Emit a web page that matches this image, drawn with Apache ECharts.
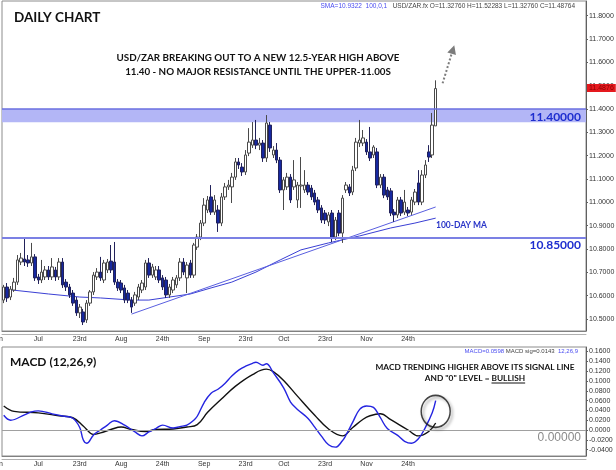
<!DOCTYPE html>
<html><head><meta charset="utf-8">
<script src="https://cdn.jsdelivr.net/npm/echarts@6/dist/echarts.min.js"></script>
<style>html,body{margin:0;padding:0;background:#fff}#c{width:616px;height:470px}</style>
</head><body><div id="c"></div>
<script>
// ---------- DATA ----------
const opens = [10.581,10.637,10.594,10.624,10.658,10.744,10.757,10.753,10.740,10.766,10.680,10.667,10.680,10.710,10.680,10.710,10.680,10.744,10.658,10.637,10.611,10.581,10.526,10.530,10.496,10.568,10.616,10.680,10.701,10.667,10.710,10.748,10.744,10.658,10.654,10.633,10.611,10.581,10.568,10.594,10.624,10.637,10.740,10.688,10.680,10.710,10.676,10.667,10.603,10.624,10.646,10.676,10.744,10.676,10.740,10.688,10.808,10.851,10.911,10.967,11.023,10.958,10.967,10.911,11.023,11.066,11.066,11.108,11.173,11.151,11.130,11.211,11.245,11.267,11.245,11.254,11.190,11.331,11.203,11.224,11.181,11.053,11.066,11.108,11.066,11.010,11.070,11.053,11.074,11.061,11.040,11.010,10.976,10.954,10.916,10.954,10.851,10.954,10.868,11.053,11.066,11.044,11.147,11.254,11.254,11.258,11.216,11.203,11.216,11.074,11.108,11.053,11.049,10.958,10.946,11.010,10.958,10.967,10.958,11.001,11.083,11.001,11.117,11.216,11.203,11.3276];
const closes = [10.637,10.590,10.628,10.658,10.753,10.761,10.744,10.740,10.766,10.676,10.667,10.701,10.710,10.680,10.723,10.680,10.744,10.646,10.637,10.603,10.568,10.526,10.551,10.487,10.568,10.616,10.688,10.701,10.676,10.740,10.744,10.710,10.658,10.633,10.624,10.581,10.581,10.551,10.603,10.637,10.654,10.740,10.688,10.723,10.710,10.667,10.637,10.603,10.637,10.667,10.676,10.744,10.701,10.731,10.688,10.817,10.851,10.911,10.988,11.010,10.958,11.010,10.911,11.023,11.066,11.074,11.108,11.173,11.160,11.130,11.203,11.258,11.267,11.245,11.254,11.190,11.340,11.233,11.224,11.181,11.053,11.096,11.108,11.010,11.096,11.074,11.074,11.074,11.044,11.023,11.001,10.967,10.924,10.924,10.946,10.847,10.924,10.868,11.018,11.074,11.040,11.138,11.258,11.267,11.276,11.216,11.190,11.237,11.074,11.108,11.031,11.023,10.954,10.946,11.010,10.954,11.001,10.954,11.010,11.044,11.001,11.117,11.160,11.194,11.331,11.48764];
const lows = [10.568,10.573,10.581,10.616,10.646,10.731,10.727,10.723,10.727,10.663,10.650,10.654,10.667,10.667,10.667,10.663,10.667,10.633,10.620,10.590,10.556,10.513,10.504,10.474,10.483,10.556,10.603,10.667,10.663,10.654,10.697,10.697,10.646,10.620,10.611,10.568,10.568,10.526,10.556,10.581,10.611,10.624,10.676,10.676,10.667,10.654,10.624,10.590,10.590,10.611,10.633,10.663,10.688,10.611,10.676,10.676,10.796,10.838,10.898,10.954,10.946,10.946,10.873,10.898,11.010,11.053,10.997,11.096,11.143,11.113,11.117,11.198,11.233,11.228,11.224,11.173,11.173,11.216,11.190,11.168,11.040,10.967,11.053,10.997,11.053,10.976,10.976,11.040,11.031,11.010,10.988,10.954,10.911,10.907,10.898,10.830,10.838,10.855,10.826,11.040,11.027,11.031,11.134,11.237,11.241,11.203,11.177,11.190,11.061,11.061,11.018,11.010,10.941,10.916,10.933,10.941,10.946,10.941,10.946,10.988,10.988,10.988,11.104,11.173,11.190,11.3276];
const highs = [10.646,10.654,10.641,10.676,10.774,10.783,10.843,10.774,10.826,10.778,10.693,10.753,10.727,10.727,10.761,10.723,10.761,10.761,10.671,10.650,10.624,10.594,10.564,10.543,10.581,10.624,10.701,10.718,10.766,10.753,10.757,10.817,10.830,10.671,10.667,10.646,10.624,10.594,10.616,10.650,10.667,10.753,10.761,10.736,10.727,10.727,10.688,10.680,10.650,10.680,10.688,10.761,10.761,10.744,10.753,10.826,10.864,10.924,11.018,11.027,11.074,11.031,10.988,11.040,11.083,11.096,11.126,11.190,11.190,11.168,11.224,11.318,11.344,11.353,11.276,11.267,11.374,11.344,11.241,11.254,11.194,11.108,11.126,11.121,11.181,11.087,11.194,11.138,11.087,11.074,11.053,11.023,10.988,10.967,10.958,10.967,10.937,10.967,11.031,11.087,11.078,11.156,11.276,11.353,11.310,11.271,11.323,11.245,11.233,11.121,11.121,11.066,11.061,10.971,11.023,11.023,11.053,10.980,11.023,11.057,11.138,11.138,11.181,11.245,11.383,11.52283];

// 100-day SMA (bar index, value)
const smaIdx = [0,5,13,22,28,37,42,48,54,60,66,73,80,86,94,103,112,119,125];
const smaVal = [10.628,10.620,10.607,10.594,10.590,10.581,10.581,10.594,10.607,10.633,10.658,10.701,10.753,10.796,10.826,10.856,10.890,10.911,10.9322];
// hand-drawn trendline
const trendIdx = [37,125];
const trendVal = [10.521,10.980];
// MACD (12,26,9)
const macdIdx = [0,2,6,8,10,14,17,20,22,23,24,26,28,30,32,35,38,40,42,44,46,49,51,53,55,56,58,60,62,64,66,68,70,72,73,75,76,78,81,83,85,88,90,92,94,96,98,99,101,103,105,107,109,111,114,116,118,120,122,124,125];
const macdVal = [0.030,0.020,0.031,0.037,0.039,0.033,0.0285,0.024,0.005,-0.020,-0.027,-0.010,0.000,0.010,0.019,0.010,-0.004,-0.012,-0.004,0.003,0.010,0.004,0.007,0.010,0.020,0.028,0.056,0.075,0.083,0.095,0.110,0.122,0.130,0.136,0.138,0.132,0.135,0.117,0.086,0.057,0.042,0.024,0.006,-0.013,-0.030,-0.035,-0.022,-0.011,0.016,0.042,0.049,0.046,0.025,0.003,-0.011,-0.023,-0.027,-0.018,0.005,0.035,0.0598];
const sigIdx = [0,3,10,16,20,23,25,26,28,31,34,37,41,44,49,53,56,59,63,67,72,76,78,81,85,90,94,98,101,104,106,109,112,117,120,123,125];
const sigVal = [0.049,0.038,0.035,0.029,0.025,0.008,-0.006,-0.009,-0.006,0.001,0.006,0.001,-0.003,0.001,0.002,0.006,0.011,0.036,0.063,0.089,0.113,0.124,0.119,0.101,0.069,0.030,0.002,-0.012,0.005,0.022,0.029,0.033,0.021,0.000,-0.012,-0.003,0.0143];

// axis / annotation values
const slotCount = 169;                         // bars + empty space to the right
const categories = Array.from({length: slotCount}, (_, k) => String(k));
const tickIdx  = [0, 10, 22, 34, 46, 58, 70, 81, 93, 105, 117];
const tickText = ['Jun','Jul','23rd','Aug','24th','Sep','23rd','Oct','23rd','Nov','24th'];
const priceTicks = [10.5,10.6,10.7,10.8,10.9,11.0,11.1,11.2,11.3,11.4,11.5,11.6,11.7,11.8];
const macdTicks = [-0.04,-0.02,0,0.02,0.04,0.06,0.08,0.10,0.12,0.14,0.16];
const resistBand = [11.343, 11.40];
const supportLevel = 10.85;
const lastClose = 11.48764;
const arrowFrom = [127, 11.51], arrowTo = [130, 11.655];
const circleMark = [125, 0.038];

// ---------- CHART ----------
const chart = echarts.init(document.getElementById('c'), null, {renderer: 'canvas'});
const candleData = opens.map((o, k) => [o, closes[k], lows[k], highs[k]]);
const pairs = (xs, ys) => xs.map((x, k) => [x, ys[k]]);
const tickMap = {}; tickIdx.forEach((t, k) => tickMap[t] = tickText[k]);

const labelFont = 'Liberation Sans, Arial, sans-serif';
function xAx(grid, withLabels, offset) {
  return {
    gridIndex: grid, type: 'category', data: categories, boundaryGap: true,
    position: 'bottom', offset: offset || 0,
    axisLine: {show: true, onZero: false, lineStyle: {color: offset ? '#b0b0b0' : '#808080', width: 1}},
    axisTick: {show: false}, splitLine: {show: false},
    axisLabel: withLabels ? {
      show: true, interval: (i) => tickMap[i] !== undefined,
      formatter: (v, i) => i === 0 ? '{j|' + tickMap[0] + '}' : (tickMap[i] || ''),
      fontSize: 7, color: '#333', fontFamily: labelFont, margin: 5,
      rich: {j: {fontSize: 7, color: '#333', fontFamily: labelFont, padding: [0, 13, 0, 0]}}
    } : {show: false}
  };
}
function yAx(grid, min, max, ticks, dec) {
  return {
    gridIndex: grid, type: 'value', position: 'right', min: min, max: max, scale: true,
    axisLine: {show: true, lineStyle: {color: '#606060', width: 1}},
    axisTick: {show: true, length: 2, customValues: ticks, lineStyle: {color: '#606060'}},
    splitLine: {show: false},
    axisLabel: {customValues: ticks, formatter: (v) => v.toFixed(dec), fontSize: 7, color: '#333',
      fontFamily: labelFont, margin: 3}
  };
}

const option = {
  animation: false,
  backgroundColor: '#ffffff',
  grid: [
    {left: 2, right: 30, top: 1, height: 330, show: true, borderColor: '#8c8c8c', borderWidth: 1, containLabel: false, outerBoundsMode: 'none'},
    {left: 2, right: 30, top: 347, height: 109, show: true, borderColor: '#8c8c8c', borderWidth: 1, containLabel: false, outerBoundsMode: 'none'}
  ],
  xAxis: [xAx(0, true, 0), xAx(1, true, 0), xAx(0, false, 3), xAx(1, false, 3)],
  yAxis: [
    yAx(0, 10.4484, 11.8629, priceTicks, 4),
    yAx(1, -0.0530, 0.1692, macdTicks, 4)
  ],
  series: [
    {
      type: 'line', xAxisIndex: 0, yAxisIndex: 0, data: [[0, null]], silent: true, z: 1, symbol: 'none',
      markArea: {silent: true, itemStyle: {color: '#b3b6f6'}, data: [[{yAxis: resistBand[0]}, {yAxis: resistBand[1]}]]},
      markLine: {silent: true, symbol: 'none', label: {show: false}, data: [
        {yAxis: resistBand[1], lineStyle: {color: '#6a6fe0', width: 1.5, type: 'solid'}},
        {yAxis: supportLevel, lineStyle: {color: '#7b80e4', width: 2, type: 'solid'}}
      ]}
    },
    {
      type: 'line', xAxisIndex: 0, yAxisIndex: 0, data: pairs(smaIdx, smaVal), symbol: 'none', z: 2,
      lineStyle: {color: '#3a3fd4', width: 1}, silent: true
    },
    {
      type: 'line', xAxisIndex: 0, yAxisIndex: 0, data: pairs(trendIdx, trendVal), symbol: 'none', z: 2,
      lineStyle: {color: '#5a5fe0', width: 1}, silent: true
    },
    {
      type: 'candlestick', xAxisIndex: 0, yAxisIndex: 0, data: candleData, barWidth: 3, z: 3,
      itemStyle: {color: '#ffffff', color0: '#1628a0', borderColor: '#4a4a4a', borderColor0: '#22225a', borderWidth: 1},
      markLine: {silent: true, animation: false, data: [
        {yAxis: lastClose, symbol: 'none', lineStyle: {color: 'transparent', width: 0},
         label: {show: true, position: 'end', distance: 1, formatter: () => lastClose.toFixed(4),
           backgroundColor: '#e5191e', color: '#8a0000', fontSize: 7, fontFamily: labelFont, padding: [1, 2, 0, 2]}},
        [{coord: arrowFrom, symbol: 'none'}, {coord: arrowTo, symbol: 'triangle', symbolSize: 9,
          lineStyle: {color: '#7c7c7c', width: 2, type: 'dotted'}, label: {show: false}}]
      ]}
    },
    {
      type: 'line', xAxisIndex: 1, yAxisIndex: 1, data: [[0, null]], symbol: 'none', silent: true, z: 1,
      markLine: {silent: true, symbol: 'none', label: {show: false}, data: [{yAxis: 0, lineStyle: {color: '#a0a0a0', width: 1, type: 'solid'}}]}
    },
    {
      type: 'line', xAxisIndex: 1, yAxisIndex: 1, data: pairs(sigIdx, sigVal), symbol: 'none', smooth: 0.4, z: 3,
      lineStyle: {color: '#111111', width: 1.4}, silent: true
    },
    {
      type: 'line', xAxisIndex: 1, yAxisIndex: 1, data: pairs(macdIdx, macdVal), symbol: 'none', smooth: 0.4, z: 4,
      lineStyle: {color: '#2424e0', width: 1.4}, silent: true
    },
    {
      type: 'scatter', xAxisIndex: 1, yAxisIndex: 1, data: [circleMark], symbol: 'circle', symbolSize: [29, 32], z: 5,
      itemStyle: {color: 'rgba(0,0,0,0)', borderColor: '#151515', borderWidth: 1.5,
        shadowColor: 'rgba(0,0,0,0.45)', shadowBlur: 3, shadowOffsetX: 2, shadowOffsetY: 2}, silent: true
    }
  ]
};

// underline helper for "BULLISH"
const mctx = document.createElement('canvas').getContext('2d');
const noteFont = 'bold 8.3px Lato';
mctx.font = noteFont;
const l2a = 'AND "0" LEVEL = ', l2b = 'BULLISH';
const w2a = mctx.measureText(l2a).width, w2b = mctx.measureText(l2b).width;
const l2x = 475 - (w2a + w2b) / 2;

const txt = (x, y, text, font, fill, align) => ({type: 'text', z: 100, x: x, y: y,
  style: {text: text, font: font, fill: fill, textAlign: align, textVerticalAlign: 'middle'}});

option.graphic = [
  txt(14, 18, 'DAILY CHART', 'bold 13.5px Lato', '#111', 'left'),
  {type: 'text', z: 100, x: 575, y: 6, style: {
    text: '{b|SMA=10.9322  100,0,1}   {g|USD/ZAR.fx O=11.32760 H=11.52283 L=11.32760 C=11.48764}',
    font: '6.5px Liberation Sans', textAlign: 'right', textVerticalAlign: 'middle',
    rich: {b: {fill: '#4a4cf0', font: '6.5px Liberation Sans'}, g: {fill: '#444', font: '6.5px Liberation Sans'}}}},
  txt(258, 58, 'USD/ZAR BREAKING OUT TO A NEW 12.5-YEAR HIGH ABOVE', 'bold 9.8px Lato', '#111', 'center'),
  txt(258, 72, '11.40 - NO MAJOR RESISTANCE UNTIL THE UPPER-11.00S', 'bold 9.8px Lato', '#111', 'center'),
  txt(581, 117, '11.40000', 'bold 12px Lato', '#1e2ecf', 'right'),
  txt(581, 245, '10.85000', 'bold 12px Lato', '#1e2ecf', 'right'),
  txt(436, 225, '100-DAY MA', 'bold 8.5px Lato', '#2a35c8', 'left'),
  txt(10, 362, 'MACD (12,26,9)', 'bold 12px Lato', '#111', 'left'),
  {type: 'text', z: 100, x: 578, y: 351, style: {
    text: '{b|MACD=0.0598} {g|MACD sig=0.0143}  {b|12,26,9}',
    font: '6px Liberation Sans', textAlign: 'right', textVerticalAlign: 'middle',
    rich: {b: {fill: '#4a4cf0', font: '6px Liberation Sans'}, g: {fill: '#444', font: '6px Liberation Sans'}}}},
  txt(475, 367, 'MACD TRENDING HIGHER ABOVE ITS SIGNAL LINE', noteFont, '#111', 'center'),
  txt(l2x, 378, l2a + l2b, noteFont, '#111', 'left'),
  {type: 'line', z: 100, shape: {x1: l2x + w2a, y1: 383, x2: l2x + w2a + w2b, y2: 383}, style: {stroke: '#111', lineWidth: 1}},
  txt(581, 438, '0.00000', '12px Liberation Sans', '#8a8a8a', 'right')
];

chart.setOption(option);
</script></body></html>
